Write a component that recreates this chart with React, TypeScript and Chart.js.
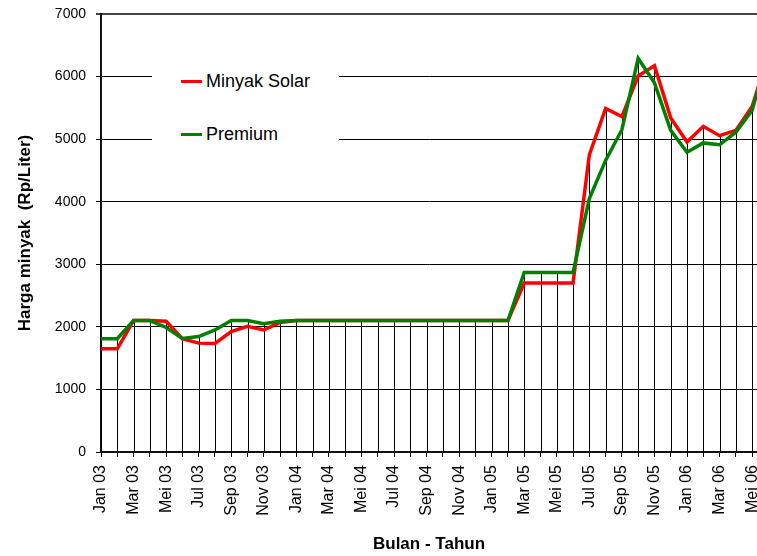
import React, { useEffect, useRef } from "react";
import { Chart, registerables } from "chart.js";

Chart.register(...registerables);

const months = [
  "Jan 03", "Feb 03", "Mar 03", "Apr 03", "Mei 03", "Jun 03", "Jul 03", "Agu 03", "Sep 03", "Okt 03", "Nov 03", "Des 03",
  "Jan 04", "Feb 04", "Mar 04", "Apr 04", "Mei 04", "Jun 04", "Jul 04", "Agu 04", "Sep 04", "Okt 04", "Nov 04", "Des 04",
  "Jan 05", "Feb 05", "Mar 05", "Apr 05", "Mei 05", "Jun 05", "Jul 05", "Agu 05", "Sep 05", "Okt 05", "Nov 05", "Des 05",
  "Jan 06", "Feb 06", "Mar 06", "Apr 06", "Mei 06", "Jun 06",
];

const solar = [
  1650, 1650, 2100, 2100, 2090, 1810, 1740, 1735, 1925, 2010, 1950, 2070,
  2100, 2100, 2100, 2100, 2100, 2100, 2100, 2100, 2100, 2100, 2100, 2100,
  2100, 2100, 2700, 2700, 2700, 2700, 4750, 5490, 5360, 6010, 6175, 5340,
  4955, 5205, 5055, 5140, 5520, 6350,
];

const premium = [
  1810, 1810, 2100, 2100, 1990, 1815, 1845, 1950, 2100, 2100, 2050, 2090,
  2100, 2100, 2100, 2100, 2100, 2100, 2100, 2100, 2100, 2100, 2100, 2100,
  2100, 2100, 2870, 2870, 2870, 2870, 4050, 4660, 5150, 6290, 5900, 5140,
  4790, 4940, 4910, 5110, 5460, 6380,
];

const shownMonths = 41;
const legendLabels = ["Minyak Solar", "Premium"];
const legendColors = ["#ff0000", "#008000"];

const FONT = '"Liberation Sans", Arial, Helvetica, sans-serif';

const dropLines = {
  id: "dropLines",
  beforeDatasetsDraw(chart: any) {
    const { ctx, chartArea, scales } = chart;
    const xs = scales.x;
    const ys = scales.y;
    ctx.save();
    ctx.beginPath();
    ctx.rect(chartArea.left, chartArea.top, chartArea.right - chartArea.left, chartArea.bottom - chartArea.top);
    ctx.clip();
    ctx.strokeStyle = "#000";
    ctx.lineWidth = 1;
    for (let i = 0; i < months.length; i++) {
      const x = Math.round(xs.getPixelForValue(i)) + 0.5;
      const top = ys.getPixelForValue(Math.max(solar[i], premium[i]));
      const bottom = ys.getPixelForValue(0);
      ctx.beginPath();
      ctx.moveTo(x, bottom);
      ctx.lineTo(x, top);
      ctx.stroke();
    }
    ctx.restore();
  },
};

export default function App() {
  const ref = useRef<HTMLCanvasElement | null>(null);

  useEffect(() => {
    if (!ref.current) return;
    const chart = new Chart(ref.current, {
      type: "line",
      data: {
        datasets: [
          {
            label: legendLabels[1],
            data: premium.map((v, i) => ({ x: i, y: v })),
            borderColor: legendColors[1],
            backgroundColor: legendColors[1],
            borderWidth: 3.5,
            pointRadius: 0,
            tension: 0,
          },
          {
            label: legendLabels[0],
            data: solar.map((v, i) => ({ x: i, y: v })),
            borderColor: legendColors[0],
            backgroundColor: legendColors[0],
            borderWidth: 3.5,
            pointRadius: 0,
            tension: 0,
          },
        ],
      },
      options: {
        animation: false,
        responsive: false,
        maintainAspectRatio: false,
        layout: { padding: { top: 14, left: 0, right: 0, bottom: 0 } },
        plugins: {
          legend: { display: false },
          tooltip: { enabled: false },
        },
        scales: {
          x: {
            type: "linear",
            min: 0,
            max: 40.3,
            afterBuildTicks: (s: any) => {
              s.ticks = months.slice(0, shownMonths).map((_, i) => ({ value: i }));
            },
            afterFit: (s: any) => {
              s.height = 104;
              s.paddingLeft = 0;
              s.paddingRight = 0;
            },
            ticks: {
              stepSize: 1,
              autoSkip: false,
              minRotation: 90,
              maxRotation: 90,
              padding: 8,
              color: "#000",
              font: { size: 16, family: FONT },
              callback: (v: any) => (Number.isInteger(v) && v % 2 === 0 ? months[v] : ""),
            },
            grid: { drawOnChartArea: false, drawTicks: true, tickLength: 5, color: "#000", lineWidth: 1 },
            border: { display: true, color: "#111", width: 2 },
            title: {
              display: true,
              text: "Bulan - Tahun",
              color: "#000",
              font: { size: 17, weight: "bold", family: FONT },
              padding: { top: 0, bottom: 1 },
            },
          },
          y: {
            min: 0,
            max: 7000,
            afterFit: (s: any) => {
              s.width = 101;
              s.paddingTop = 0;
              s.paddingBottom = 0;
            },
            ticks: {
              stepSize: 1000,
              padding: 10,
              color: "#000",
              font: { size: 14, family: FONT },
              callback: (v: any) => String(v),
            },
            grid: {
              color: (c: any) => (c.tick && c.tick.value === 7000 ? "#444" : "#000"),
              lineWidth: (c: any) => (c.tick && c.tick.value === 7000 ? 2 : 1),
              tickLength: 5,
            },
            border: { display: true, color: "#111", width: 2 },
            title: {
              display: true,
              text: "Harga minyak  (Rp/Liter)",
              color: "#000",
              font: { size: 17, weight: "bold", family: FONT },
              padding: { top: 15, bottom: 0 },
            },
          },
        },
      },
      plugins: [dropLines],
    } as any);
    return () => chart.destroy();
  }, []);

  return (
    <div style={{ position: "fixed", left: 0, top: 0, width: 757, height: 556, background: "#fff" }}>
      <canvas ref={ref} width={757} height={556} style={{ display: "block" }} />
      <div
        style={{
          position: "absolute",
          left: 152,
          top: 48,
          width: 187,
          height: 120,
          background: "#fff",
        }}
      >
        {legendLabels.map((l, i) => (
          <div
            key={l}
            style={{
              position: "absolute",
              left: 29,
              top: i === 0 ? 22 : 75,
              height: 22,
              display: "flex",
              alignItems: "center",
              whiteSpace: "nowrap",
            }}
          >
            <span style={{ display: "inline-block", width: 21, height: 3, background: legendColors[i] }} />
            <span style={{ marginLeft: 4, fontFamily: FONT, fontSize: 18, color: "#000", lineHeight: "22px" }}>{l}</span>
          </div>
        ))}
      </div>
    </div>
  );
}
